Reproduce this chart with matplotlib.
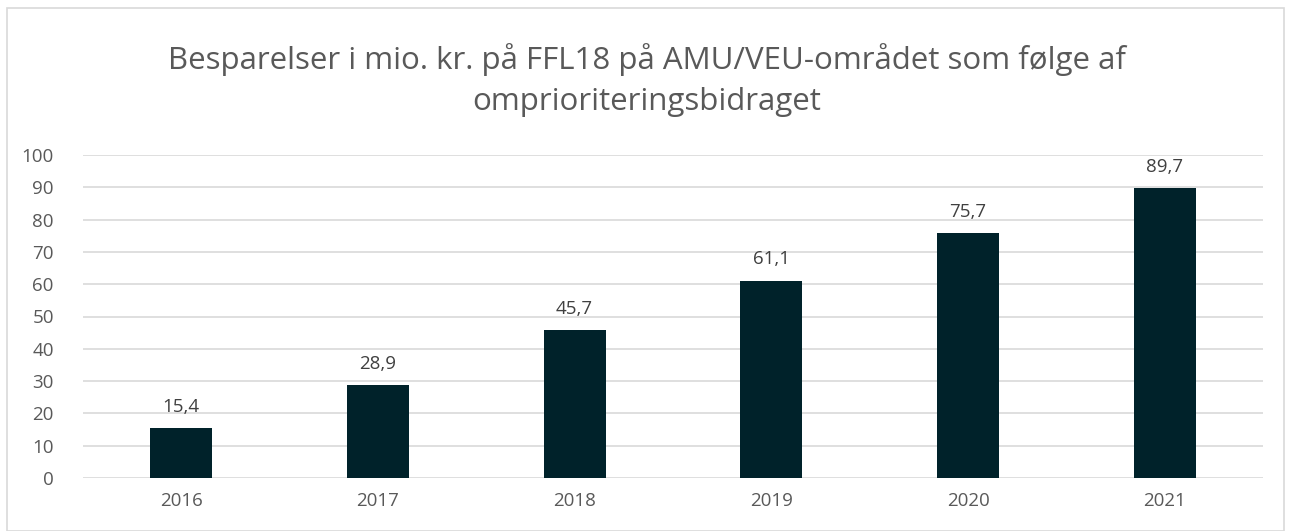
import matplotlib
matplotlib.use("Agg")
import matplotlib.pyplot as plt
from matplotlib.patches import Rectangle

years = ["2016", "2017", "2018", "2019", "2020", "2021"]
values = [15.4, 28.9, 45.7, 61.1, 75.7, 89.7]
labels = ["15,4", "28,9", "45,7", "61,1", "75,7", "89,7"]
yticks = [0, 10, 20, 30, 40, 50, 60, 70, 80, 90, 100]
title = "Besparelser i mio. kr. på FFL18 på AMU/VEU-området som følge af\nomprioriteringsbidraget"

plt.rcParams['font.family'] = ['Open Sans', 'DejaVu Sans']
W, H = 1291, 531
fig = plt.figure(figsize=(W/100, H/100), dpi=100)
fig.patches.append(Rectangle((7/W, 0), (W-14)/W, (H-8)/H, transform=fig.transFigure,
                             fill=False, edgecolor='#d9d9d9', linewidth=1.2))

left, right = 83, 1263
top, bottom = 155, 478
ax = fig.add_axes([left/W, 1-bottom/H, (right-left)/W, (bottom-top)/H])
x = range(len(years))
ax.bar(x, values, width=0.315, color='#00222a', zorder=3)
for xi, v, l in zip(x, values, labels):
    ax.text(xi, v + 5.0, l, ha='center', va='baseline', fontsize=13.5, color='#404040')
ax.set_xlim(-0.5, len(years)-0.5)
ax.set_ylim(0, 100)
ax.set_yticks(yticks)
ax.set_xticks(list(x))
ax.set_xticklabels(years)
ax.grid(axis='y', color='#d9d9d9', linewidth=1.2, zorder=0)
for s in ax.spines.values():
    s.set_visible(False)
ax.tick_params(length=0, labelsize=13.5, labelcolor='#595959')
ax.tick_params(axis='y', pad=21)
ax.tick_params(axis='x', pad=10)
fig.text(646.5/W, 1-80/H, title, ha='center', va='center', fontsize=22.5,
         color='#595959', linespacing=1.5)
fig.savefig("out.png", dpi=100)
